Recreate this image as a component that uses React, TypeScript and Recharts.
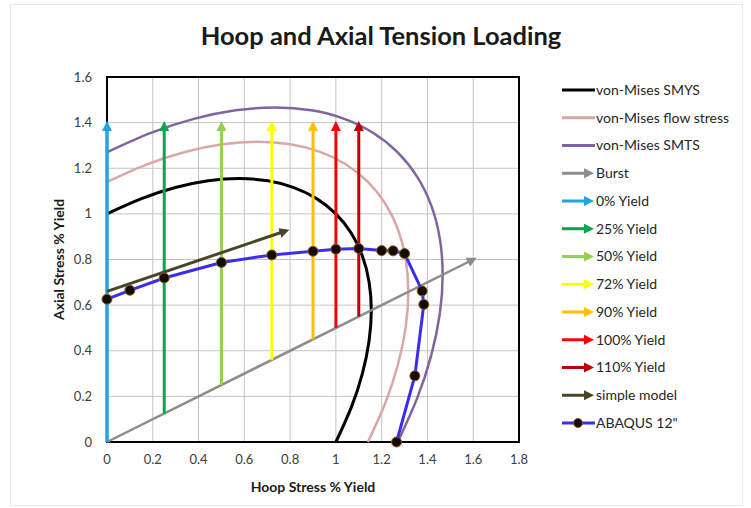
import {
  LineChart,
  Line,
  XAxis,
  YAxis,
  CartesianGrid,
  ReferenceArea,
  Legend,
} from "recharts";

type Pt = { x: number; y: number };

const xTicks = [0, 0.2, 0.4, 0.6, 0.8, 1, 1.2, 1.4, 1.6, 1.8];
const yTicks = [0, 0.2, 0.4, 0.6, 0.8, 1, 1.2, 1.4, 1.6];

// von Mises envelopes (first quadrant part)
const smysCurve: Pt[] = [
  { x: 0, y: 1 },
  { x: 0.1507, y: 1.0668 },
  { x: 0.2989, y: 1.1154 },
  { x: 0.4419, y: 1.1448 },
  { x: 0.5774, y: 1.1547 },
  { x: 0.7029, y: 1.1448 },
  { x: 0.8165, y: 1.1154 },
  { x: 0.9161, y: 1.0668 },
  { x: 1, y: 1 },
  { x: 1.0668, y: 0.9161 },
  { x: 1.1154, y: 0.8165 },
  { x: 1.1448, y: 0.7029 },
  { x: 1.1547, y: 0.5774 },
  { x: 1.1448, y: 0.4419 },
  { x: 1.1154, y: 0.2989 },
  { x: 1.0668, y: 0.1507 },
  { x: 1, y: 0 },
];

const flowCurve: Pt[] = [
  { x: 0, y: 1.14 },
  { x: 0.1718, y: 1.2162 },
  { x: 0.3407, y: 1.2715 },
  { x: 0.5037, y: 1.3051 },
  { x: 0.6582, y: 1.3164 },
  { x: 0.8014, y: 1.3051 },
  { x: 0.9308, y: 1.2715 },
  { x: 1.0443, y: 1.2162 },
  { x: 1.14, y: 1.14 },
  { x: 1.2162, y: 1.0443 },
  { x: 1.2715, y: 0.9308 },
  { x: 1.3051, y: 0.8014 },
  { x: 1.3164, y: 0.6582 },
  { x: 1.3051, y: 0.5037 },
  { x: 1.2715, y: 0.3407 },
  { x: 1.2162, y: 0.1718 },
  { x: 1.14, y: 0 },
];

const smtsCurve: Pt[] = [
  { x: 0, y: 1.27 },
  { x: 0.1914, y: 1.3548 },
  { x: 0.3796, y: 1.4165 },
  { x: 0.5612, y: 1.4539 },
  { x: 0.7332, y: 1.4665 },
  { x: 0.8927, y: 1.4539 },
  { x: 1.037, y: 1.4165 },
  { x: 1.1634, y: 1.3548 },
  { x: 1.27, y: 1.27 },
  { x: 1.3548, y: 1.1634 },
  { x: 1.4165, y: 1.037 },
  { x: 1.4539, y: 0.8927 },
  { x: 1.4665, y: 0.7332 },
  { x: 1.4539, y: 0.5612 },
  { x: 1.4165, y: 0.3796 },
  { x: 1.3548, y: 0.1914 },
  { x: 1.27, y: 0 },
];

const burst: Pt[] = [
  { x: 0, y: 0 },
  { x: 1.6, y: 0.8 },
];

const yield0: Pt[] = [{ x: 0, y: 0 }, { x: 0, y: 1.39 }];
const yield25: Pt[] = [{ x: 0.25, y: 0.125 }, { x: 0.25, y: 1.39 }];
const yield50: Pt[] = [{ x: 0.5, y: 0.25 }, { x: 0.5, y: 1.39 }];
const yield72: Pt[] = [{ x: 0.72, y: 0.36 }, { x: 0.72, y: 1.39 }];
const yield90: Pt[] = [{ x: 0.9, y: 0.45 }, { x: 0.9, y: 1.39 }];
const yield100: Pt[] = [{ x: 1, y: 0.5 }, { x: 1, y: 1.39 }];
const yield110: Pt[] = [{ x: 1.1, y: 0.55 }, { x: 1.1, y: 1.39 }];

const simpleModel: Pt[] = [
  { x: 0, y: 0.66 },
  { x: 0.78, y: 0.925 },
];

const abaqus12: Pt[] = [
  { x: 0, y: 0.626 },
  { x: 0.1, y: 0.665 },
  { x: 0.25, y: 0.719 },
  { x: 0.5, y: 0.787 },
  { x: 0.72, y: 0.82 },
  { x: 0.9, y: 0.836 },
  { x: 1.0, y: 0.845 },
  { x: 1.1, y: 0.848 },
  { x: 1.2, y: 0.839 },
  { x: 1.25, y: 0.838 },
  { x: 1.3, y: 0.826 },
  { x: 1.377, y: 0.662 },
  { x: 1.384, y: 0.603 },
  { x: 1.345, y: 0.29 },
  { x: 1.265, y: 0 },
];

type Kind = "line" | "arrow" | "dots";
const series: {
  id: string;
  name: string;
  data: Pt[];
  color: string;
  width: number;
  kind: Kind;
}[] = [
  { id: "smys", name: "von-Mises SMYS", data: smysCurve, color: "#000000", width: 3, kind: "line" },
  { id: "flow", name: "von-Mises flow stress", data: flowCurve, color: "#d9a7a5", width: 2.5, kind: "line" },
  { id: "smts", name: "von-Mises SMTS", data: smtsCurve, color: "#8064a2", width: 2.5, kind: "line" },
  { id: "burst", name: "Burst", data: burst, color: "#8c8c8c", width: 2.5, kind: "arrow" },
  { id: "y0", name: "0% Yield", data: yield0, color: "#1fa5e0", width: 3.5, kind: "arrow" },
  { id: "y25", name: "25% Yield", data: yield25, color: "#00a84f", width: 3, kind: "arrow" },
  { id: "y50", name: "50% Yield", data: yield50, color: "#92d050", width: 3, kind: "arrow" },
  { id: "y72", name: "72% Yield", data: yield72, color: "#ffff00", width: 3, kind: "arrow" },
  { id: "y90", name: "90% Yield", data: yield90, color: "#ffc000", width: 3, kind: "arrow" },
  { id: "y100", name: "100% Yield", data: yield100, color: "#ff0000", width: 3, kind: "arrow" },
  { id: "y110", name: "110% Yield", data: yield110, color: "#c00000", width: 3, kind: "arrow" },
  { id: "simple", name: "simple model", data: simpleModel, color: "#4a452a", width: 3, kind: "arrow" },
  { id: "abaqus", name: 'ABAQUS 12"', data: abaqus12, color: "#3b2cf0", width: 3, kind: "dots" },
];

const dotStyle = { r: 5, fill: "#140c00", stroke: "#8a5a22", strokeWidth: 1 };

function LegendBox() {
  const step = 27.75;
  return (
    <svg width={190} height={360}>
      {series.map((s, i) => {
        const cy = 12 + i * step;
        return (
          <g key={s.id}>
            {s.kind === "arrow" ? (
              <>
                <line x1={7} y1={cy} x2={30} y2={cy} stroke={s.color} strokeWidth={3} />
                <path d={`M29,${cy - 5} L39,${cy} L29,${cy + 5} Z`} fill={s.color} />
              </>
            ) : (
              <line x1={7} y1={cy} x2={40} y2={cy} stroke={s.color} strokeWidth={3} />
            )}
            {s.kind === "dots" && (
              <circle cx={23} cy={cy} r={4.5} fill={dotStyle.fill} stroke={dotStyle.stroke} />
            )}
            <text x={41} y={cy} dy="0.35em" fontSize={14} fill="#262626">
              {s.name}
            </text>
          </g>
        );
      })}
    </svg>
  );
}

export default function App() {
  return (
    <div
      style={{
        position: "absolute",
        left: 0,
        top: 0,
        width: 751,
        height: 508,
        fontFamily: "Lato, 'Open Sans', sans-serif",
        background: "#fff",
      }}
    >
      <svg
        width={751}
        height={508}
        style={{ position: "absolute", left: 0, top: 0 }}
      >
        <rect x={10.5} y={4.5} width={732} height={501} fill="none" stroke="#e8e8e8" />
      </svg>
      <div
        style={{
          position: "absolute",
          top: 20,
          left: 0,
          width: 762,
          textAlign: "center",
          fontSize: 25.5,
          fontWeight: 700,
          color: "#1a1a1a",
        }}
      >
        Hoop and Axial Tension Loading
      </div>
      <LineChart
        width={751}
        height={508}
        margin={{ top: 77, right: 232, bottom: 0, left: 0 }}
        style={{ position: "absolute", left: 0, top: 0 }}
      >
        <defs>
          {series
            .filter((s) => s.kind === "arrow")
            .map((s) => (
              <marker
                key={s.id}
                id={`ah-${s.id}`}
                viewBox="0 0 10 10"
                refX={6}
                refY={5}
                markerWidth={10}
                markerHeight={10}
                markerUnits="userSpaceOnUse"
                orient="auto"
              >
                <path d="M0,0 L10,5 L0,10 Z" fill={s.color} />
              </marker>
            ))}
        </defs>
        <CartesianGrid stroke="#c4c4c4" strokeWidth={1} />
        <XAxis
          type="number"
          dataKey="x"
          domain={[0, 1.8]}
          ticks={xTicks}
          height={66}
          axisLine={false}
          tickLine={false}
          tickSize={0}
          tickMargin={13}
          tick={{ fontSize: 13, fill: "#404040" }}
          label={{
            value: "Hoop Stress % Yield",
            position: "insideBottom",
            offset: 16,
            style: { fontSize: 14, fontWeight: 700, fill: "#1a1a1a" },
          }}
        />
        <YAxis
          type="number"
          dataKey="y"
          domain={[0, 1.6]}
          ticks={yTicks}
          width={107}
          axisLine={false}
          tickLine={false}
          tickSize={0}
          tickMargin={15}
          tick={{ fontSize: 13, fill: "#404040" }}
          label={{
            value: "Axial Stress % Yield",
            angle: -90,
            position: "insideLeft",
            offset: 59,
            style: { fontSize: 14, fontWeight: 700, fill: "#1a1a1a", textAnchor: "middle" },
          }}
        />
        <ReferenceArea
          x1={0}
          x2={1.8}
          y1={0}
          y2={1.6}
          fill="none"
          stroke="#000"
          strokeWidth={2}
        />
        {series.map((s) => (
          <Line
            key={s.id}
            name={s.name}
            data={s.data}
            dataKey="y"
            type={s.kind === "line" ? "natural" : "linear"}
            stroke={s.color}
            strokeWidth={s.width}
            dot={s.kind === "dots" ? dotStyle : false}
            activeDot={false}
            markerEnd={s.kind === "arrow" ? `url(#ah-${s.id})` : undefined}
            isAnimationActive={false}
          />
        ))}
        <Legend
          layout="vertical"
          align="center"
          verticalAlign="middle"
          content={() => <LegendBox />}
          wrapperStyle={{ position: "absolute", left: 555, top: 78, width: 190, height: 360 }}
        />
      </LineChart>
    </div>
  );
}
